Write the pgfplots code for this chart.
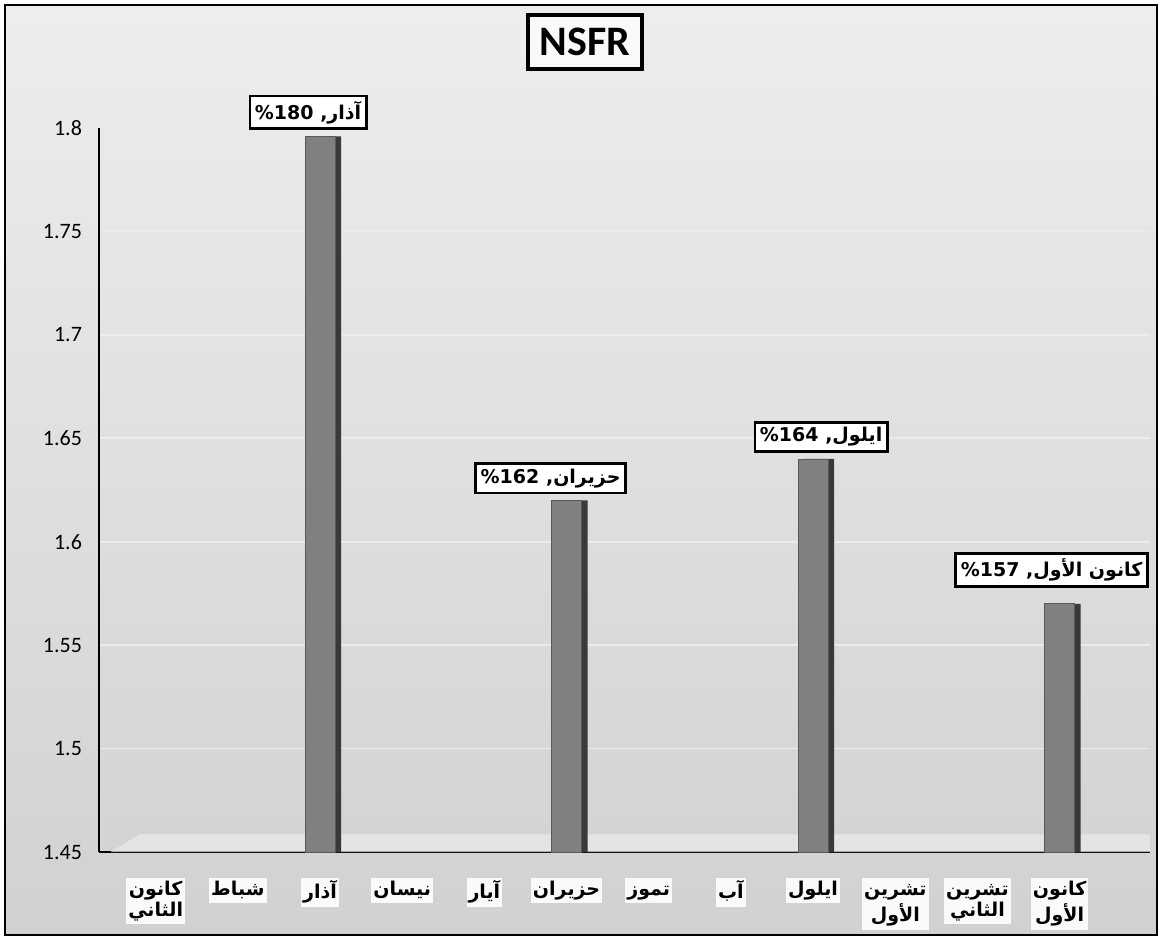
\documentclass[border=0pt]{standalone}
\usepackage{pgfplots}
\pgfplotsset{compat=1.18}
\usepackage{fontspec}
\setmainfont{Carlito}
\newfontfamily\arabicfont[Script=Arabic]{DejaVu Sans}
\TeXXeTstate=1

\newcommand\ar[1]{{\arabicfont\bfseries\strut\beginR #1\endR}}
% data label: month, value%
\newcommand\dl[2]{{\arabicfont\bfseries\beginR #1, \beginL#2\endL\%\endR}}

\begin{document}
\begin{tikzpicture}
\useasboundingbox (0,0) rectangle (580pt,-470pt);
\shade[top color=gray!14, bottom color=gray!36] (2.5pt,-2.5pt) rectangle (578.5pt,-467.5pt);
\draw[line width=1.2pt] (2.5pt,-2.5pt) rectangle (578.5pt,-467.5pt);

\begin{axis}[
  at={(49.5pt,-426pt)}, anchor=south west,
  width=525.5pt, height=362pt, scale only axis,
  xmin=-0.69, xmax=12.1,
  ymin=1.45, ymax=1.8,
  ytick={1.45,1.5,1.55,1.6,1.65,1.7,1.75,1.8},
  xtick={0,1,2,3,4,5,6,7,8,9,10,11},
  xticklabels={
    {\ar{كانون}\\\ar{الثاني}},
    {\ar{شباط}},
    {\ar{آذار}},
    {\ar{نيسان}},
    {\ar{آيار}},
    {\ar{حزيران}},
    {\ar{تموز}},
    {\ar{آب}},
    {\ar{ايلول}},
    {\ar{تشرين}\\\ar{الأول}},
    {\ar{تشرين}\\\ar{الثاني}},
    {\ar{كانون}\\\ar{الأول}}
  },
  xticklabel style={align=center, fill=white!96!gray, inner sep=1pt,
    font=\fontsize{9.5}{10.5}\selectfont, anchor=north, yshift=-13pt},
  yticklabel style={font=\fontsize{11}{13}\selectfont, xshift=-5pt},
  /pgf/number format/assume math mode=true,
  /pgf/number format/fixed, /pgf/number format/precision=2,
  axis x line=bottom, axis y line=left,
  axis line style={line width=1.2pt, -},
  major tick length=0pt,
  ymajorgrids, grid style={white!85!gray, line width=0.8pt},
  ybar, bar width=15pt,
  every node near coord/.append style={draw=black, line width=1.4pt, fill=white,
    text=black, inner sep=2.5pt, font=\fontsize{9.5}{11}\selectfont, anchor=south, yshift=3pt},
  clip=false,
]
% 3D floor
\fill[white!85!gray, opacity=0.7] (axis cs:-0.55,1.45) -- (axis cs:-0.2,1.4585) -- (axis cs:12.1,1.4585) -- (axis cs:12.1,1.45) -- cycle;

% side faces
\addplot[bar shift=3pt, fill=gray!45!black, draw=none] coordinates {(2,1.796) (5,1.62) (8,1.64) (11,1.57)};

\addplot[bar shift=0pt, fill=gray, draw=black!65, nodes near coords={\dl{آذار}{180}},
  every node near coord/.append style={xshift=-6pt}] coordinates {(2,1.796)};
\addplot[bar shift=0pt, fill=gray, draw=black!65, nodes near coords={\dl{حزيران}{162}},
  every node near coord/.append style={xshift=-8pt}] coordinates {(5,1.62)};
\addplot[bar shift=0pt, fill=gray, draw=black!65, nodes near coords={\dl{ايلول}{164}},
  every node near coord/.append style={xshift=4pt}] coordinates {(8,1.64)};
\addplot[bar shift=0pt, fill=gray, draw=black!65,
  nodes near coords={{\arabicfont\bfseries\beginR كانون الأول, \beginL157\endL\%\endR}},
  every node near coord/.append style={xshift=-4pt, yshift=5pt}] coordinates {(11,1.57)};
\end{axis}

\node[draw=black, line width=1.6pt, fill=white!95!gray, font=\bfseries\fontsize{21}{24}\selectfont,
  minimum width=57pt, minimum height=27pt, inner sep=2pt] at (292.5pt,-21pt) {NSFR};
\end{tikzpicture}
\end{document}
